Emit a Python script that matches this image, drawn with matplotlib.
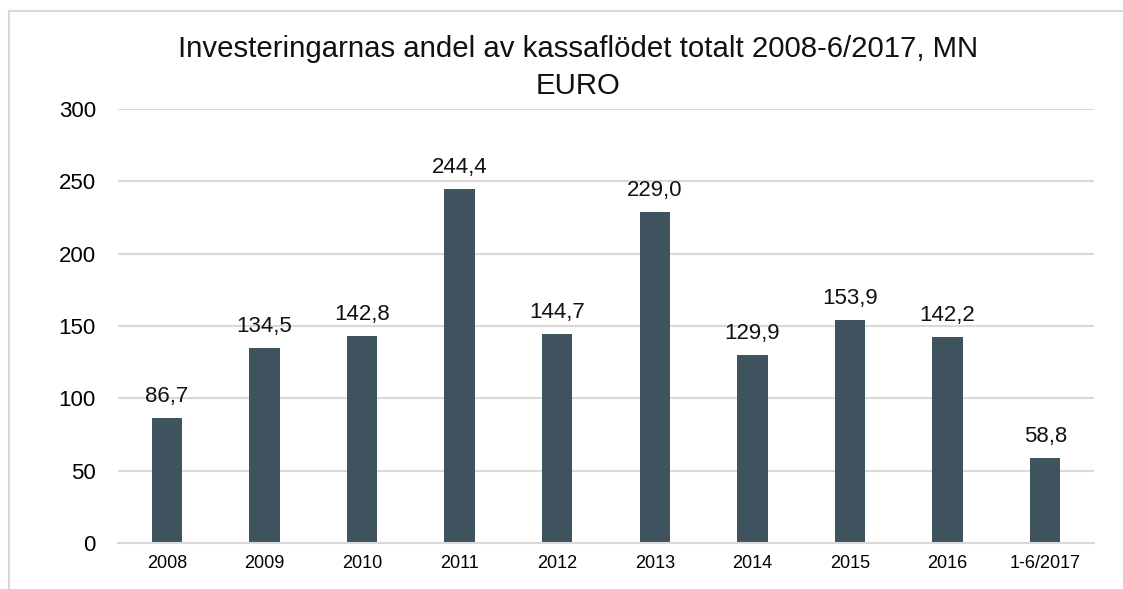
import matplotlib
matplotlib.use("Agg")
import matplotlib.pyplot as plt
from matplotlib.patches import Rectangle

categories = ["2008", "2009", "2010", "2011", "2012", "2013", "2014", "2015", "2016", "1-6/2017"]
values = [86.7, 134.5, 142.8, 244.4, 144.7, 229.0, 129.9, 153.9, 142.2, 58.8]
labels = ["86,7", "134,5", "142,8", "244,4", "144,7", "229,0", "129,9", "153,9", "142,2", "58,8"]
title = "Investeringarnas andel av kassaflödet totalt 2008-6/2017, MN\nEURO"

plt.rcParams['font.family'] = ['Liberation Sans', 'DejaVu Sans']

W, H, DPI = 1123, 589, 100
fig = plt.figure(figsize=(W / DPI, H / DPI), dpi=DPI)

# outer chart frame (only left and top visible)
fig.patches.append(Rectangle((9 / W, -0.1), 1.2, 1 - 10.5 / H + 0.1, transform=fig.transFigure,
                             fill=False, edgecolor='#D9D9D9', linewidth=1.5, zorder=0))

left, right = 118, 1094
top, bottom = 109, 543
ax = fig.add_axes([left / W, 1 - bottom / H, (right - left) / W, (bottom - top) / H])

x = list(range(len(categories)))
ax.bar(x, values, width=0.31, color='#3F535E', zorder=3)
ax.set_xlim(-0.5, len(categories) - 0.5)
ax.set_ylim(0, 300)
ax.set_yticks([0, 50, 100, 150, 200, 250, 300])
ax.set_xticks(x)
ax.set_xticklabels(categories, fontsize=13)
ax.tick_params(axis='y', labelsize=16, length=0, pad=16)
ax.tick_params(axis='x', length=0, pad=9)
ax.yaxis.grid(True, color='#D9D9D9', linewidth=1.5, zorder=0)
for s in ['top', 'right', 'left']:
    ax.spines[s].set_visible(False)
ax.spines['bottom'].set_color('#D9D9D9')
ax.spines['bottom'].set_linewidth(1.5)
ax.spines['bottom'].set_zorder(4)

for xi, v, lab in zip(x, values, labels):
    ax.annotate(lab, (xi, v), xytext=(0, 11.5), textcoords='offset points',
                ha='center', va='baseline', fontsize=16, color='#111111')

fig.text(578 / W, 1 - 94 / H, title, ha='center', va='baseline', fontsize=21.2,
         multialignment='center', linespacing=1.43, color='#111111')

fig.savefig("out.png", dpi=DPI, facecolor='white')
